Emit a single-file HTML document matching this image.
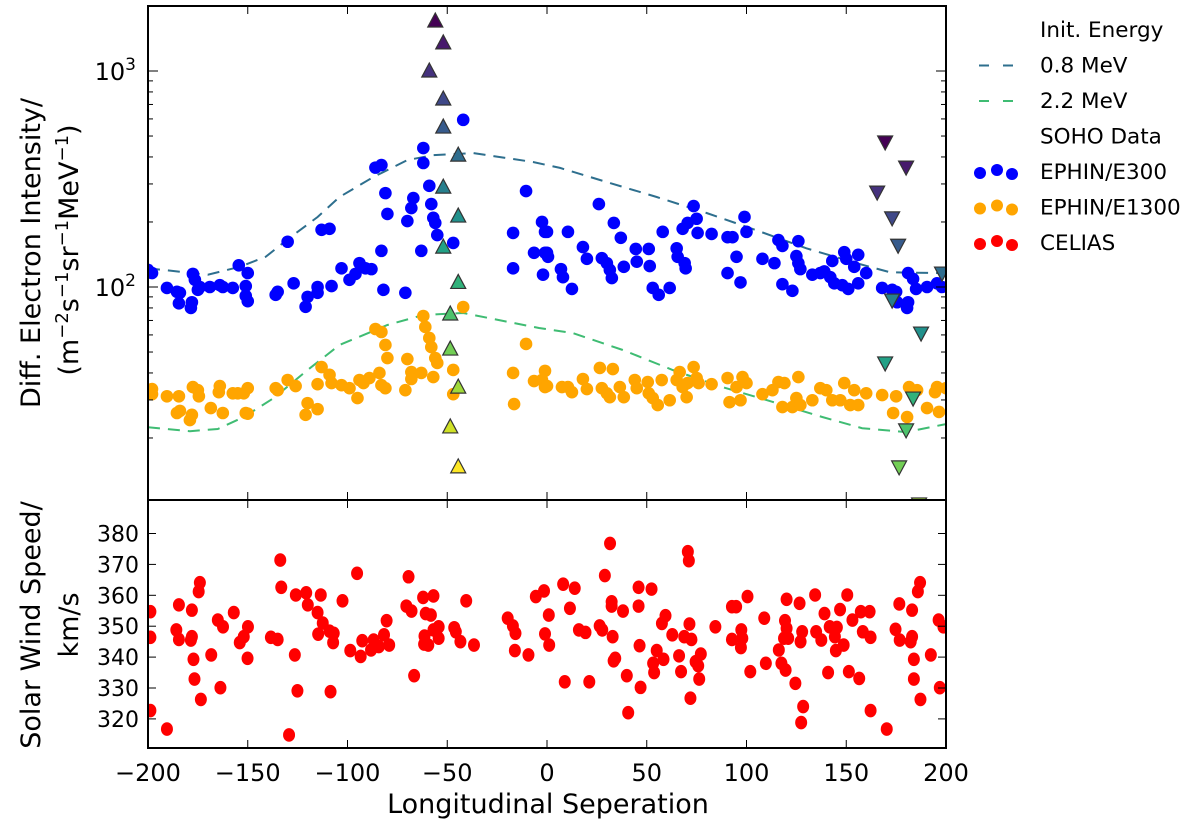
<!DOCTYPE html>
<html><head><meta charset="utf-8"><style>
body{margin:0;background:#fff;}
svg{display:block;font-family:"DejaVu Sans","Liberation Sans",sans-serif;}
</style></head><body>
<svg id="chart" width="1200" height="825" viewBox="0 0 1200 825"></svg>
<script>
// ---- data ----
const curveX = [-200,-170,-154,-141,-129,-115,-104,-87,-70,-57,-37,-7,6.5,30,55,80,105,130,155,172,197,200];
const curve08 = [122,114,124,138,169,211,261,323,387,408,417,379,356,306,261,220,183,151,129,117,116,118];
const curveX22 = [-200,-179,-165,-152,-137,-120,-104,-80,-62,-42,-4,13,38,63,88,113,138,158,180,198,200];
const curve22 = [22.4,21.5,22.0,25.0,30.6,41.3,53.9,66.7,74.2,75.8,64.6,61.2,51.1,41.3,34.4,29.4,25.0,22.2,21.3,23.0,23.2];
const e300X = [-200,-198,-190.5,-185.5,-184,-184.5,-178,-178.5,-177.5,-176.5,-174,-175,-169,-164,-162.5,-157.5,-154.5,-150,-151,-151,-150,-136,-135,-130,-127,-121,-120,-115,-115,-113,-109,-108,-103,-99,-96,-94,-91,-88,-86,-83,-83,-82,-81,-80,-71,-70,-68,-67,-63,-62,-62,-59,-58,-57,-56,-55,-47,-42,-17,-17,-10.5,-6.5,-2.5,-1,-1,-2,0,0,0.5,7,8,10.5,12.5,18,20,26,27.5,30,31.5,32.5,33.5,37,38.5,44.5,45,51,51.5,53,56,61.5,58,65,65.5,68,69,69.5,70.5,73.5,75,75.5,82.5,90.5,93,90.5,95,97,99,100,108,114,116,118,118,123,126,125,126,127,133,137,139,142,143,144,148,149,151,150,154,156,156,160,168,173,175.5,175,181,181,180.5,183.5,185,190.5,195.5,198];
const e300Y = [120,116,99,95,94,84,85,80,115,108,100,97,100,102,100,99,126,116,101,91,86,92,95,162,104,81,90,94,100,184,186,101,122,108,115,129,122,121,357,367,147,97,272,218,94,202,232,258,147,440,375,294,242,209,198,174,160,594,178,122,278,144,200,180,144,114,180,144,138,121,111,180,98,153,135,242,136,129,120,110,198,169,124,150,131,150,125,99,92,99,180,151,138,186,129,122,198,237,207,178,176,170,170,116,138,105,211,180,135,129,165,155,103,96,163,139,129,121,114,116,118,111,132,104,102,145,98,135,124,141,104,116,99,97,85,95,116,85,80,109,98,100,104,100];
const e1300X = [-198,-198,-190.5,-184.5,-185.5,-184,-178,-179,-177.5,-175,-174.5,-168.5,-164,-164.5,-162.5,-157.5,-155,-152,-150,-151,-150,-136,-135,-130,-126,-121,-120,-115,-115,-113,-109,-108,-103,-99,-95,-94,-92,-89,-84,-83,-81,-86,-83,-81,-80,-71,-70,-68,-68,-63,-62,-61,-59,-58,-56,-55,-57,-47,-47,-42,-17,-16.5,-10.5,-6.5,-2.5,-1,-1,0,7.5,10.5,12.5,18,20,26.5,33,27.5,30,31.5,36.5,38.5,44,45,50.5,51,53,55.5,57.5,61.5,65,66.5,68,70,70.5,73.5,75,76,82.5,90.5,91.5,95,97,98,100,108,113,116,119,118,123,125,127,126,133,137,140,143,147,149,152,154,156,160,168,175,173.5,180.5,181.5,185.5,190.5,195.5,196.5,194.5,200];
const e1300Y = [33.7,31.9,31.2,31.2,26.1,26.7,25.6,24.2,34.4,33.3,31.2,27.5,34.8,32.6,26.1,32.2,32.2,32.2,34.0,26.1,25.9,34.0,33.3,37.1,34.8,25.6,29.0,27.2,35.5,42.6,39.2,35.9,35.1,34.0,30.6,37.1,35.9,37.9,40.0,35.1,34.0,63.9,61.9,53.9,46.9,33.3,46.4,40.4,37.5,40.0,73.4,65.3,58.1,52.7,46.9,44.5,38.3,41.3,31.9,80.8,40.0,28.7,54.5,36.7,37.1,40.9,34.4,34.8,34.4,34.4,32.6,37.5,33.7,42.2,41.7,34.0,32.2,30.9,34.4,30.9,37.1,34.0,36.3,32.2,30.6,28.4,37.1,29.9,37.1,40.4,34.4,30.9,35.9,42.6,37.9,35.9,35.5,37.9,29.3,34.4,29.9,38.3,35.9,31.9,33.3,36.3,35.9,27.8,27.8,30.6,28.4,38.3,29.9,34.0,33.3,29.9,29.9,35.9,28.4,33.3,28.4,32.2,31.6,31.2,26.1,25.0,34.4,33.3,27.5,34.4,26.4,32.6,34.0];
const upX = [-56,-52,-59,-52,-52,-44.5,-52,-44.5,-52,-44.5,-48.5,-48.5,-44.5,-48.5,-44.5];
const upY = [1704,1350,1000,742,550,408,290,213,153,105,75,51.6,34.4,22.5,14.7];
const downX = [169.5,180,165.5,173,176,198,173,187.5,169.5,183.5,180,176.5,186.5];
const downY = [469,359,275,209,156,116,87,61.2,44.5,30.6,21.8,14.7,9.9];
const windX = [-198.8,-198.8,-198.8,-190.5,-185.8,-184.5,-184.5,-178.5,-178,-178,-177.2,-176.7,-174.6,-174,-173.5,-168.3,-165,-163.7,-162.4,-157,-154,-152,-149.9,-150.1,-138.4,-135,-133.7,-133.2,-129.3,-126.4,-125.9,-125.1,-120.7,-119.9,-115,-114.7,-113.4,-112.4,-109,-108.5,-107.2,-106.9,-102.5,-98.6,-95.2,-93.4,-92.6,-88.2,-86.9,-84.3,-81.7,-80.4,-79.1,-69.4,-70.5,-67.9,-66.6,-62.1,-60.8,-61.4,-61.6,-59.5,-58.2,-56.9,-56.9,-54.3,-54.3,-46.5,-45.7,-43.4,-40.5,-36.6,-19.7,-17.1,-15.8,-16.1,-9.3,-5.6,-1.5,0.9,-1,1.1,8.9,8.1,13.9,11.5,16,19.3,21.2,26.4,27.7,29,31.6,32.4,32.4,32.9,33.4,34.2,38.1,40,40.7,45.9,45.9,46.4,46.9,52.4,53.2,53.7,55,57.6,58.4,59.4,62.8,66.2,67.2,68.8,70.6,71.1,71.4,72.4,71.9,74.5,75.8,76.3,77.1,84.4,92.7,94.8,92.7,97.4,97.9,97.2,100.5,101.9,108.9,109.7,116.2,117.5,119.3,118.8,120.1,120.1,119.6,120.9,124.5,126.6,127.1,127.9,128.4,127.4,134.4,134.9,137.5,139.1,140.9,141.7,144.3,144.8,145.3,146.9,148.7,150.5,151.3,153.1,156.5,157.3,158.3,161.7,162.2,162.2,170.3,174.7,176.6,176.8,182.3,183,183,183.9,183.9,185.9,187,187.2,192.4,196.3,196.9,198.7];
const windY = [354.7,346.4,322.7,316.7,348.8,356.9,345.7,345.5,355.2,346.6,339.3,332.9,361.2,364.1,326.3,340.7,352,330.1,349.8,354.4,344.7,346.6,349.8,339.6,346.4,345.7,371.4,362.6,314.8,340.7,360.1,329.1,360.8,356.9,354.4,347.4,360.1,351,348.4,328.8,344.7,347.7,358.2,342.1,367.1,340.2,345.3,342.3,345.5,343.4,347.2,351.8,343.9,366,356.5,354.9,334,359.3,354.1,346.8,344.2,343.9,353.6,359.8,348.8,349.8,346.1,349.5,348.2,345,358.2,343.9,352.6,350.1,347.7,342.1,340.7,359.6,361.4,353.6,347.5,343.9,332,363.6,362.3,355.8,348.8,348,332,350.1,348.8,366.4,376.8,357.9,356.5,346.6,338.8,339.6,354.9,334,322,362.6,356.5,343.7,330.2,362,338,335,342.1,350.9,339.3,353.4,347.2,340.4,335.3,346.6,374.1,371.2,350.7,345.7,326.7,338.5,337.2,332.9,341,349.8,356.3,356.3,345.7,348.8,346.1,343.1,359.6,335.3,352.6,338,342.3,338,351.8,346.1,349.3,358.7,335.8,346.1,331.5,357.4,345,348.2,324,318.8,360.1,348.2,345.5,354.1,335,349.8,346.6,342.1,349.6,355.4,343.9,360.1,335.3,352,333.1,354.7,348.2,354.7,346.4,322.7,316.7,349,357.2,345.5,345,346.6,355.2,339.3,332.9,361.2,364.1,326.3,340.7,352,330.1,349.8];
const xTicks = [-200,-150,-100,-50,0,50,100,150,200];
const windTicks = [320,330,340,350,360,370,380];

// ---- axes ----
const L=148,R=946,T1=6,B1=500,T2=500,B2=748;
const sx = v => L + (v+200)*(R-L)/400;
const sy = v => 287 - (Math.log10(v)-2)*216;
const sw = v => 533.5 - (v-380)*3.09;
const NS="http://www.w3.org/2000/svg";
const svg=document.getElementById('chart');
function mk(tag,attrs,parent){const e=document.createElementNS(NS,tag);for(const k in attrs)e.setAttribute(k,attrs[k]);(parent||svg).appendChild(e);return e;}
const defs=mk('defs',{});
const cp1=mk('clipPath',{id:'c1'},defs);mk('rect',{x:L,y:T1,width:R-L,height:B1-T1},cp1);
const cp2=mk('clipPath',{id:'c2'},defs);mk('rect',{x:L,y:T2,width:R-L,height:B2-T2},cp2);
const g1=mk('g',{'clip-path':'url(#c1)'});


const g2=mk('g',{'clip-path':'url(#c2)'});



const vir=[[68,1,84],[72,36,117],[65,68,135],[53,95,141],[42,120,142],[33,145,140],[34,168,132],[68,191,112],[122,209,81],[189,223,38],[253,231,37]];
function viridis(t){t=Math.max(0,Math.min(1,t));const p=t*(vir.length-1),i=Math.min(Math.floor(p),vir.length-2),f=p-i;const c=vir[i].map((a,k)=>Math.round(a+(vir[i+1][k]-a)*f));return `rgb(${c[0]},${c[1]},${c[2]})`;}

function curve(xs,ys,color,name){
  const d=xs.map((x,i)=>(i?'L':'M')+sx(x).toFixed(1)+','+sy(ys[i]).toFixed(1)).join(' ');
  const p=mk('path',{d,fill:'none',stroke:color,'stroke-width':2,'stroke-dasharray':'12,8'},g1);
  
  
}
curve(curveX,curve08,'#2e6f8e','model-curve-0.8mev');
curve(curveX22,curve22,'#3fbc73','model-curve-2.2mev');

e1300X.forEach((x,i)=>{const c=mk('circle',{cx:sx(x),cy:sy(e1300Y[i]),r:6.3,fill:'#ffa500'},g1);
  
  });
e300X.forEach((x,i)=>{const c=mk('circle',{cx:sx(x),cy:sy(e300Y[i]),r:6.3,fill:'#0000ff'},g1);
  
  });
upX.forEach((x,i)=>{const X=sx(x),Y=sy(upY[i]);
  const p=mk('polygon',{points:`${X},${Y-8} ${X-7.5},${Y+6} ${X+7.5},${Y+6}`,fill:viridis(i/(upX.length-1)),stroke:'#333','stroke-width':1.2},g1);
  
  });
downX.forEach((x,i)=>{const X=sx(x),Y=sy(downY[i]);
  const p=mk('polygon',{points:`${X},${Y+8} ${X-7.5},${Y-6} ${X+7.5},${Y-6}`,fill:viridis(i/(upX.length-1)),stroke:'#333','stroke-width':1.2},g1);
  
  });
windX.forEach((x,i)=>{const c=mk('ellipse',{cx:sx(x),cy:sw(windY[i]),rx:6,ry:6.8,fill:'#ff0000'},g2);
  
  });

// frames & ticks
const axg=mk('g',{stroke:'#000','stroke-width':1});


xTicks.forEach(v=>{const X=sx(v);
  [[T1,T1+8],[B1,B1-8],[T2,T2+8],[B2,B2-8]].forEach(a=>mk('line',{x1:X,x2:X,y1:a[0],y2:a[1]},axg));});
for(let dec=1;dec<=3;dec++){for(let m=1;m<=9;m++){const v=m*Math.pow(10,dec);const Y=sy(v);if(Y<T1||Y>B1)continue;const len=m===1?10:5;
  mk('line',{x1:L,x2:L+len,y1:Y,y2:Y},axg);mk('line',{x1:R,x2:R-len,y1:Y,y2:Y},axg);}}
windTicks.forEach(v=>{const Y=sw(v);mk('line',{x1:L,x2:L+8,y1:Y,y2:Y},axg);mk('line',{x1:R,x2:R-8,y1:Y,y2:Y},axg);});
const f1=mk('rect',{x:L,y:T1,width:R-L,height:B1-T1,fill:'none',stroke:'#000','stroke-width':2});


const f2=mk('rect',{x:L,y:T2,width:R-L,height:B2-T2,fill:'none',stroke:'#000','stroke-width':2});



function txt(s,attrs,name){const t=mk('text',attrs);t.textContent=s;
  
  return t;}
xTicks.forEach(v=>txt((v<0?'\u2212':'')+Math.abs(v),{x:sx(v),y:781,'font-size':24,'text-anchor':'middle'},'x-tick-label'));
windTicks.forEach(v=>txt(String(v),{x:139,y:sw(v)+8,'font-size':22,'text-anchor':'end'},'wind-y-tick-label'));
[[3,'10'],[2,'10']].forEach(([e,b])=>{const Y=sy(Math.pow(10,e));
  const t=txt('',{x:136,y:Y+9,'font-size':24,'text-anchor':'end'},'intensity-y-tick-label');
  const a=mk('tspan',{},t);a.textContent=b;const s=mk('tspan',{dy:-10,'font-size':17},t);s.textContent=String(e);});
txt('Longitudinal Seperation',{x:548,y:813,'font-size':27,'text-anchor':'middle'},'x-axis-title');
txt('Diff. Electron Intensity/',{x:0,y:0,'font-size':27,'text-anchor':'middle',transform:'translate(40,253) rotate(-90)'},'intensity-axis-title');
const yt2=txt('',{x:0,y:0,'font-size':27,'text-anchor':'middle',transform:'translate(78,250) rotate(-90)'},'intensity-axis-units');
yt2.innerHTML='(m<tspan dy="-10" font-size="18">\u22122</tspan><tspan dy="10">s</tspan><tspan dy="-10" font-size="18">\u22121</tspan><tspan dy="10">sr</tspan><tspan dy="-10" font-size="18">\u22121</tspan><tspan dy="10">MeV</tspan><tspan dy="-10" font-size="18">\u22121</tspan><tspan dy="10">)</tspan>';
txt('Solar Wind Speed/',{x:0,y:0,'font-size':27,'text-anchor':'middle',transform:'translate(40,625) rotate(-90)'},'wind-axis-title');
txt('km/s',{x:0,y:0,'font-size':27,'text-anchor':'middle',transform:'translate(78,625) rotate(-90)'},'wind-axis-units');

// legend
const lg=mk('g',{});


const rows=[['Init. Energy',null],['0.8 MeV','#2e6f8e'],['2.2 MeV','#3fbc73'],['SOHO Data',null],['EPHIN/E300','#0000ff'],['EPHIN/E1300','#ffa500'],['CELIAS','#ff0000']];
rows.forEach((r,i)=>{const y=29+i*35.5;
  const t=mk('text',{x:1040,y:y+8,'font-size':21.5},lg);t.textContent=r[0];
  
  
  if(r[1]&&i<3){mk('line',{x1:979,x2:1013,y1:y+1,y2:y+1,stroke:r[1],'stroke-width':2,'stroke-dasharray':'10,14'},lg);}
  else if(r[1]){[[980,y+2],[997,y-1],[1012,y+3]].forEach(p=>mk('circle',{cx:p[0],cy:p[1],r:6,fill:r[1]},lg));}
});
</script>
</body></html>
